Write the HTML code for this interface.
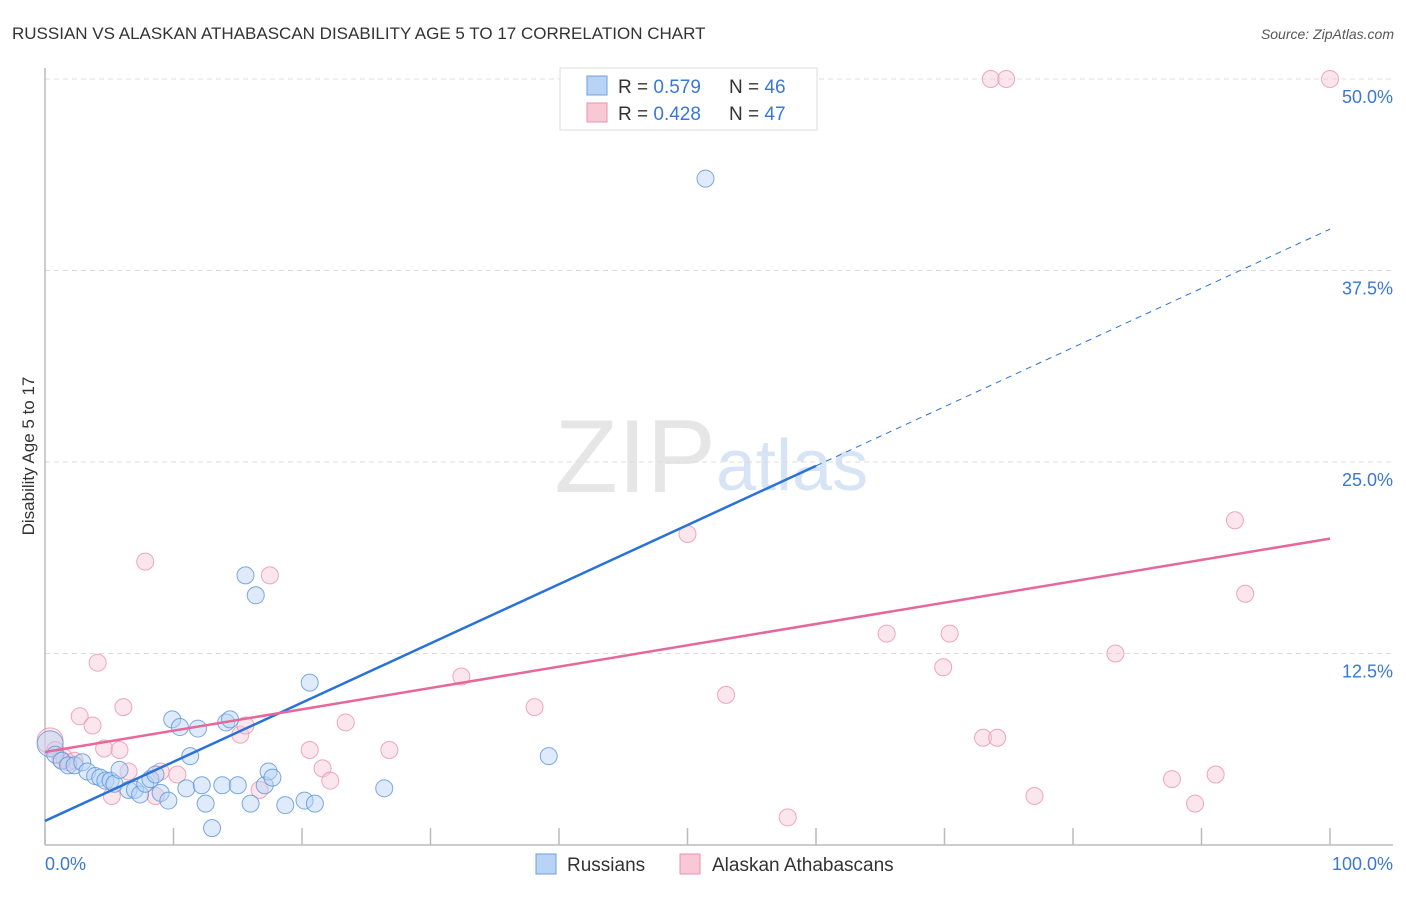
<!DOCTYPE html>
<html><head><meta charset="utf-8">
<style>
body{margin:0;background:#fff;font-family:"Liberation Sans",sans-serif;}
svg text{font-family:"Liberation Sans",sans-serif;}
</style></head>
<body>
<svg id="chart" width="1406" height="892" viewBox="0 0 1406 892">
<text x="12" y="39" font-size="17" fill="#333">RUSSIAN VS ALASKAN ATHABASCAN DISABILITY AGE 5 TO 17 CORRELATION CHART</text>
<text x="1394" y="39" font-size="14" fill="#555" font-style="italic" text-anchor="end">Source: ZipAtlas.com</text>
<text x="716" y="492" font-size="104" fill="#e6e6e6" font-family="Liberation Serif" text-anchor="end">ZIP</text>
<text x="716" y="490" font-size="72" fill="#d6e4f5">atlas</text>
<g id="grid"></g>
<g id="axes"></g>
<g id="marks"></g>
<text x="34" y="456" font-size="17" fill="#333" text-anchor="middle" transform="rotate(-90 34 456)">Disability Age 5 to 17</text>
<text x="45" y="870" font-size="18" fill="#3a78d4">0.0%</text>
<text x="1393" y="870" font-size="18" fill="#3a78d4" text-anchor="end">100.0%</text>
<g>
<rect x="560" y="68" width="257" height="62" fill="#fff" stroke="#ddd"/>
<rect x="587" y="76" width="20" height="19" fill="#b8d3f5" stroke="#6fa0e0"/>
<rect x="587" y="103" width="20" height="19" fill="#f9c8d6" stroke="#eb92ae"/>
<text x="618" y="93" font-size="19" fill="#333">R = <tspan fill="#3a78d4">0.579</tspan></text>
<text x="729" y="93" font-size="19" fill="#333">N = <tspan fill="#3a78d4">46</tspan></text>
<text x="618" y="120" font-size="19" fill="#333">R = <tspan fill="#3a78d4">0.428</tspan></text>
<text x="729" y="120" font-size="19" fill="#333">N = <tspan fill="#3a78d4">47</tspan></text>
</g>
<g>
<rect x="536" y="854" width="20" height="20" fill="#b8d3f5" stroke="#6fa0e0"/>
<text x="567" y="871" font-size="19" fill="#333">Russians</text>
<rect x="680" y="854" width="20" height="20" fill="#f9c8d6" stroke="#eb92ae"/>
<text x="712" y="871" font-size="19" fill="#333">Alaskan Athabascans</text>
</g>
</svg>
<script>
const yTicks=[12.5,25,37.5,50];
const yTickLabels=["12.5%","25.0%","37.5%","50.0%"];
const xTicks=[0,10,20,30,40,50,60,70,80,90,100];
const russX=[0.4,0.8,1.3,1.8,2.3,2.9,3.3,3.9,4.3,4.7,5.1,5.4,5.8,6.5,7.0,7.4,7.8,8.2,8.6,9.0,9.6,9.9,10.5,11.0,11.3,11.9,12.2,12.5,13.0,13.8,14.1,14.4,15.0,15.6,16.0,16.4,17.1,17.4,17.7,18.7,20.2,20.6,21.0,26.4,39.2,51.4];
const russY=[6.6,5.9,5.5,5.2,5.2,5.4,4.8,4.5,4.4,4.2,4.2,4.0,4.9,3.6,3.6,3.3,4.0,4.3,4.6,3.4,2.9,8.2,7.7,3.7,5.8,7.6,3.9,2.7,1.1,3.9,8.0,8.2,3.9,17.6,2.7,16.3,3.9,4.8,4.4,2.6,2.9,10.6,2.7,3.7,5.8,43.5];
const athX=[0.4,0.8,1.2,1.5,1.8,2.3,2.7,3.7,4.1,4.6,5.2,5.8,6.1,6.5,7.8,8.6,9.0,10.3,15.2,15.6,16.7,17.5,20.6,21.6,22.2,23.4,26.8,32.4,38.1,50.0,53.0,57.8,65.5,69.9,70.4,73.0,74.1,73.6,74.8,77.0,83.3,87.7,89.5,91.1,92.6,93.4,100.0];
const athY=[6.8,6.2,5.6,5.7,5.4,5.5,8.4,7.8,11.9,6.3,3.2,6.2,9.0,4.8,18.5,3.2,4.8,4.6,7.2,7.8,3.6,17.6,6.2,5.0,4.2,8.0,6.2,11.0,9.0,20.3,9.8,1.8,13.8,11.6,13.8,7.0,7.0,50,50,3.2,12.5,4.3,2.7,4.6,21.2,16.4,50];
const russTrend=[1.57,40.2];
const athTrend=[6.07,20.0];
const X0=45,X1=1330,Y0=845,Y50=79;
const sx=v=>X0+(X1-X0)*v/100;
const sy=v=>Y0-(Y0-Y50)*v/50;
const NS="http://www.w3.org/2000/svg";
function mk(tag,attrs,parent){const e=document.createElementNS(NS,tag);for(const k in attrs)e.setAttribute(k,attrs[k]);parent.appendChild(e);return e;}
const grid=document.getElementById('grid'),axes=document.getElementById('axes'),marks=document.getElementById('marks');
yTicks.forEach((t,i)=>{
 const l=mk('line',{x1:X0,x2:1393,y1:sy(t),y2:sy(t),stroke:'#ddd','stroke-dasharray':'5,4'},grid);
 
 
 const tx=mk('text',{x:1393,y:sy(t)+24,'font-size':18,fill:'#3a78d4','text-anchor':'end'},grid);
 tx.textContent=yTickLabels[i];
 
 
});
const la=mk('line',{x1:X0,x2:X0,y1:68,y2:Y0,stroke:'#bbb','stroke-width':1.5},axes);


const lb=mk('line',{x1:X0,x2:1393,y1:Y0,y2:Y0,stroke:'#bbb','stroke-width':1.5},axes);


xTicks.forEach(t=>{
 const l=mk('line',{x1:sx(t),x2:sx(t),y1:828,y2:Y0,stroke:'#bbb','stroke-width':1.5},axes);
 
 
});
function dots(xs,ys,fill,stroke,name){
 xs.forEach((x,i)=>{
  const c=mk('circle',{cx:sx(x),cy:sy(ys[i]),r:(i===0?13:8.5),fill:fill,'fill-opacity':0.45,stroke:stroke,'stroke-opacity':0.8,'stroke-width':1},marks);
  
  
 });
}
dots(athX,athY,'#f9c8d6','#eb92ae','athabascan-point');
dots(russX,russY,'#b8d3f5','#5b93db','russian-point');
const rv=x=>russTrend[0]+(russTrend[1]-russTrend[0])*x/100;
const r1=mk('line',{x1:sx(0),y1:sy(rv(0)),x2:sx(60),y2:sy(rv(60)),stroke:'#2a72d8','stroke-width':2.5},marks);


const r2=mk('line',{x1:sx(60),y1:sy(rv(60)),x2:sx(100),y2:sy(rv(100)),stroke:'#2a72d8','stroke-width':1,'stroke-dasharray':'6,5'},marks);


const a1=mk('line',{x1:sx(0),y1:sy(athTrend[0]),x2:sx(100),y2:sy(athTrend[1]),stroke:'#e8679a','stroke-width':2.5},marks);


</script>
</body></html>
